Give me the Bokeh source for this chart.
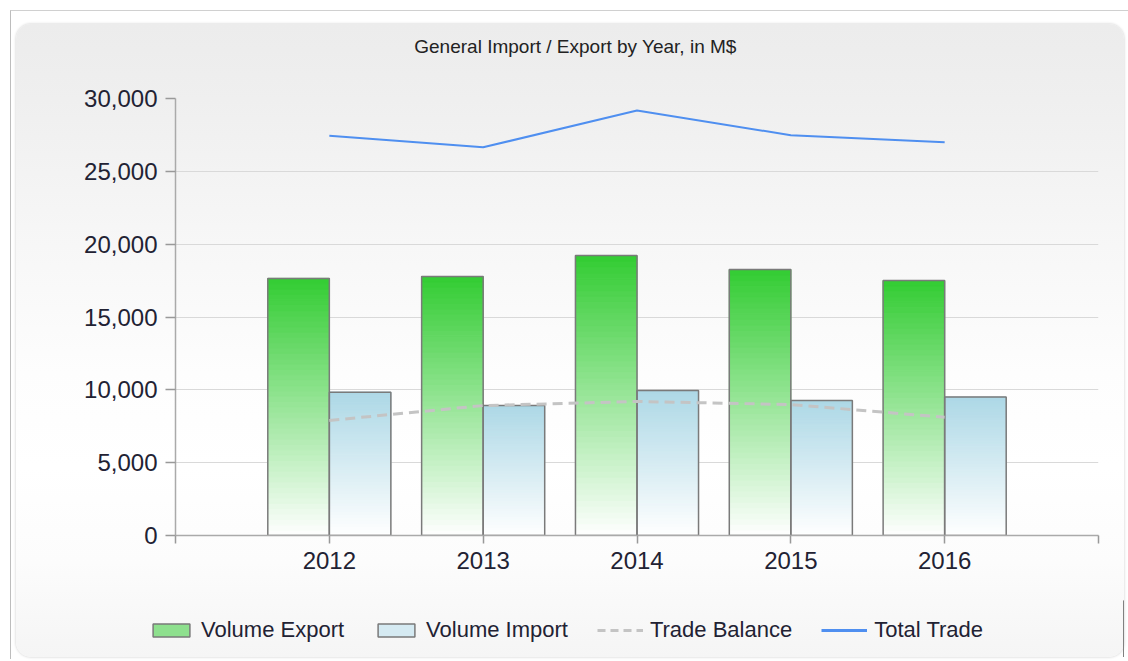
from bokeh.plotting import figure
from bokeh.models import (ColumnDataSource, Range1d, FixedTicker, NumeralTickFormatter,
                          Legend, LegendItem, Label)
from bokeh.layouts import column
from bokeh.embed import file_html
from bokeh.resources import INLINE

# ---- data ----
years = [2012, 2013, 2014, 2015, 2016]
volume_export = [17650, 17780, 19220, 18260, 17500]
volume_import = [9840, 8920, 9950, 9270, 9500]
trade_balance = [7900, 8920, 9200, 8990, 8120]
total_trade = [27450, 26650, 29180, 27480, 26990]
x_ticks = [2011, 2012, 2013, 2014, 2015, 2016, 2017]
y_ticks = [0, 5000, 10000, 15000, 20000, 25000, 30000]
title_text = "General Import / Export by Year, in M$"
series_names = ["Volume Export", "Volume Import", "Trade Balance", "Total Trade"]

# ---- styles ----
FONT = "Liberation Sans"
EXPORT_TOP = (51, 204, 51)
IMPORT_TOP = (173, 216, 230)
N_SLICES = 48
BAR_W = 0.4
OFFSET = 0.2
PANEL_W = 1108


def hexc(rgb):
    return "#%02x%02x%02x" % tuple(int(round(c)) for c in rgb)


def gradient_source(xs, vals, rgb):
    d = dict(x=[], bottom=[], top=[], color=[])
    for x, v in zip(xs, vals):
        for k in range(N_SLICES):
            t = (k + 0.5) / N_SLICES
            c = [255 + (ch - 255) * t for ch in rgb]
            d["x"].append(x)
            d["bottom"].append(v * k / N_SLICES)
            d["top"].append(v * (k + 1) / N_SLICES)
            d["color"].append(hexc(c))
    return ColumnDataSource(d)


def blank_fig(h):
    f = figure(width=PANEL_W, height=h, x_range=Range1d(0, 1), y_range=Range1d(0, 1),
               output_backend="svg", toolbar_location=None,
               x_axis_location=None, y_axis_location=None,
               min_border=0, background_fill_color=None, border_fill_color=None,
               outline_line_color=None, frame_align=False)
    f.grid.visible = False
    return f


# ---- title strip ----
pt = blank_fig(60)
pt.add_layout(Label(x=559, y=38, x_units="screen", y_units="screen", text=title_text,
                    text_align="center", text_baseline="middle",
                    text_font=FONT, text_font_size="19px", text_color="#222222"))

# ---- main chart ----
p = figure(width=PANEL_W, height=516,
           x_range=Range1d(x_ticks[0], x_ticks[-1]),
           y_range=Range1d(y_ticks[0], y_ticks[-1]),
           output_backend="svg", toolbar_location=None,
           min_border_left=159, min_border_right=26,
           min_border_top=14, min_border_bottom=65,
           background_fill_color=None, border_fill_color=None,
           outline_line_color=None, frame_align=False)

p.xgrid.grid_line_color = None
p.ygrid.grid_line_color = "#d9d9d9"
p.ygrid.grid_line_width = 1
p.yaxis.ticker = FixedTicker(ticks=y_ticks)
p.xaxis.ticker = FixedTicker(ticks=x_ticks)
p.yaxis.formatter = NumeralTickFormatter(format="0,0")
p.xaxis.major_label_overrides = {x_ticks[0]: "", x_ticks[-1]: ""}
for ax in (p.xaxis, p.yaxis):
    ax.axis_line_color = "#aaaaaa"
    ax.axis_line_width = 1.5
    ax.major_tick_line_color = "#999999"
    ax.major_tick_line_width = 1.5
    ax.minor_tick_line_color = None
    ax.major_tick_in = 0
    ax.major_label_text_font = FONT
    ax.major_label_text_font_size = "24px"
    ax.major_label_text_color = "#222233"
p.yaxis.major_tick_out = 10
p.yaxis.major_label_standoff = 8
p.xaxis.major_tick_out = 8
p.xaxis.major_label_standoff = 8

exp_x = [y - OFFSET for y in years]
imp_x = [y + OFFSET for y in years]
src_e = gradient_source(exp_x, volume_export, EXPORT_TOP)
src_i = gradient_source(imp_x, volume_import, IMPORT_TOP)
p.vbar(x="x", bottom="bottom", top="top", width=BAR_W, source=src_e,
       fill_color="color", line_color="color", line_width=1)
p.vbar(x="x", bottom="bottom", top="top", width=BAR_W, source=src_i,
       fill_color="color", line_color="color", line_width=1)
p.vbar(x=exp_x, bottom=0, top=volume_export, width=BAR_W,
       fill_color=None, line_color="#7a7a7a", line_width=1.5)
p.vbar(x=imp_x, bottom=0, top=volume_import, width=BAR_W,
       fill_color=None, line_color="#7a7a7a", line_width=1.5)

p.line(years, trade_balance, line_color="#c4c4c4", line_width=3, line_dash="10 6")
p.line(years, total_trade, line_color="#4f8ff0", line_width=2)

# ---- legend strip (its renderers hold the same data, outside this strip's ranges) ----
pl = blank_fig(57)
lg_e = pl.vbar(x=exp_x, top=volume_export, width=BAR_W,
               fill_color="#8ee08e", line_color="#7a7a7a", line_width=1.5)
lg_i = pl.vbar(x=imp_x, top=volume_import, width=BAR_W,
               fill_color="#d5eaf2", line_color="#7a7a7a", line_width=1.5)
lg_b = pl.line(years, trade_balance, line_color="#c4c4c4", line_width=3, line_dash="8 5")
lg_t = pl.line(years, total_trade, line_color="#4f8ff0", line_width=3)
legend = Legend(items=[LegendItem(label=series_names[0], renderers=[lg_e]),
                       LegendItem(label=series_names[1], renderers=[lg_i]),
                       LegendItem(label=series_names[2], renderers=[lg_b]),
                       LegendItem(label=series_names[3], renderers=[lg_t])],
                location=(132, 14), orientation="horizontal",
                glyph_width=46, glyph_height=16, label_standoff=7, spacing=29,
                padding=0, margin=0, border_line_color=None,
                background_fill_alpha=0,
                label_text_font=FONT, label_text_font_size="22px",
                label_text_color="#222233")
pl.add_layout(legend)

panel = column(pt, p, pl, spacing=0, margin=(13, 4, 2, 5),
               styles={"background": "linear-gradient(to bottom, #ececec 0%, #efefef 12%, "
                                     "#f7f7f7 35%, #fdfdfd 55%, #ffffff 70%, #fcfcfc 85%, #f5f5f5 100%)",
                       "border-radius": "15px",
                       "box-shadow": "0 0 3px rgba(0,0,0,0.22)"})

root = column(panel, margin=(10, 0, 0, 10),
              styles={"border-left": "1px solid #bdbdbd", "border-top": "1px solid #d0d0d0",
                      "background": "#ffffff"})

open("out.html", "w").write(file_html(root, INLINE))
